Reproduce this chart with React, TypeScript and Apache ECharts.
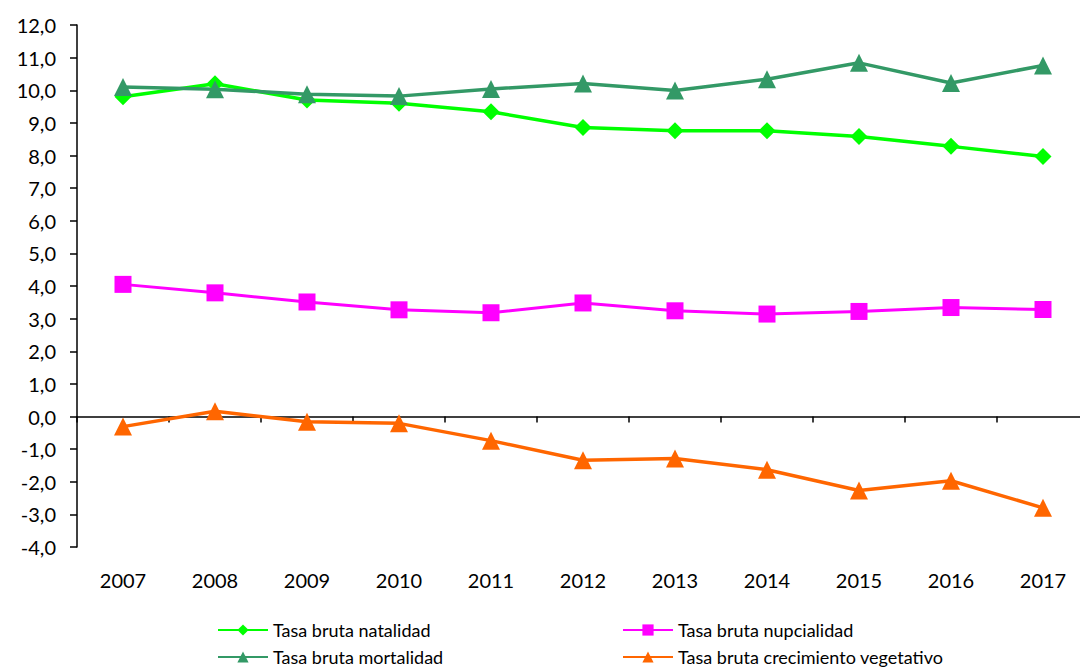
import React, { useEffect, useRef } from "react";
import * as echarts from "echarts";

const years = ["2007", "2008", "2009", "2010", "2011", "2012", "2013", "2014", "2015", "2016", "2017"];
const natalidad = [9.8, 10.2, 9.7, 9.6, 9.34, 8.86, 8.76, 8.76, 8.58, 8.28, 7.97];
const mortalidad = [10.1, 10.03, 9.88, 9.82, 10.04, 10.21, 9.99, 10.34, 10.84, 10.22, 10.76];
const nupcialidad = [4.05, 3.79, 3.51, 3.27, 3.18, 3.48, 3.24, 3.14, 3.22, 3.34, 3.28];
const crecimiento = [-0.31, 0.16, -0.16, -0.21, -0.74, -1.34, -1.29, -1.63, -2.27, -1.97, -2.8];

const names = {
  nat: "Tasa bruta natalidad",
  nup: "Tasa bruta nupcialidad",
  mor: "Tasa bruta mortalidad",
  cre: "Tasa bruta crecimiento vegetativo",
};

const FONT = "Lato, 'Open Sans', sans-serif";

export default function App() {
  const ref = useRef<HTMLDivElement>(null);
  useEffect(() => {
    if (!ref.current) return;
    const chart = echarts.init(ref.current, null, { renderer: "svg" });
    const legendBase = {
      itemWidth: 50,
      itemHeight: 14,
      itemGap: 4,
      padding: 0,
      textStyle: { fontFamily: FONT, fontSize: 18, color: "#000" },
      selectedMode: false as const,
    };
    chart.setOption({
      animation: false,
      backgroundColor: "#fff",
      grid: {
        left: 77,
        top: 25,
        width: 1012,
        height: 522,
        containLabel: false,
        outerBoundsMode: "none",
      },
      legend: [
        { ...legendBase, data: [names.nat], left: 217, top: 621 },
        { ...legendBase, data: [names.nup], left: 622, top: 621 },
        { ...legendBase, data: [names.mor], left: 217, top: 648 },
        { ...legendBase, data: [names.cre], left: 622, top: 648 },
      ],
      xAxis: [
        {
          type: "category",
          data: years,
          boundaryGap: true,
          axisLine: { show: false, onZero: false },
          axisTick: { show: false },
          axisLabel: { fontFamily: FONT, fontSize: 20, color: "#000", margin: 23 },
        },
        {
          type: "category",
          data: years,
          position: "bottom",
          boundaryGap: true,
          axisLine: { show: true, onZero: true, lineStyle: { color: "#000", width: 1.5 } },
          axisTick: { show: true, length: 6, inside: false, lineStyle: { color: "#000", width: 1.5 } },
          axisLabel: { show: false },
        },
      ],
      yAxis: {
        type: "value",
        min: -4,
        max: 12,
        interval: 1,
        splitLine: { show: false },
        axisLine: { show: true, lineStyle: { color: "#000", width: 1.5 } },
        axisTick: { show: true, length: 7, lineStyle: { color: "#000", width: 1.5 } },
        axisLabel: {
          fontFamily: FONT,
          fontSize: 20,
          color: "#000",
          margin: 21,
          formatter: (v: number) => v.toFixed(1).replace(".", ","),
        },
      },
      series: [
        {
          name: names.nat,
          type: "line",
          data: natalidad,
          symbol: "diamond",
          symbolSize: 17,
          lineStyle: { color: "#00FF00", width: 3.5 },
          itemStyle: { color: "#00FF00" },
        },
        {
          name: names.nup,
          type: "line",
          data: nupcialidad,
          symbol: "rect",
          symbolSize: 17,
          lineStyle: { color: "#FF00FF", width: 3 },
          itemStyle: { color: "#FF00FF" },
        },
        {
          name: names.mor,
          type: "line",
          data: mortalidad,
          symbol: "triangle",
          symbolSize: 18,
          lineStyle: { color: "#339966", width: 3.5 },
          itemStyle: { color: "#339966" },
        },
        {
          name: names.cre,
          type: "line",
          data: crecimiento,
          symbol: "triangle",
          symbolSize: 18,
          lineStyle: { color: "#FF6600", width: 3.5 },
          itemStyle: { color: "#FF6600" },
        },
      ],
    });
    return () => chart.dispose();
  }, []);
  return (
    <div
      ref={ref}
      style={{ position: "fixed", left: 0, top: 0, width: 1080, height: 668, background: "#fff" }}
    />
  );
}
